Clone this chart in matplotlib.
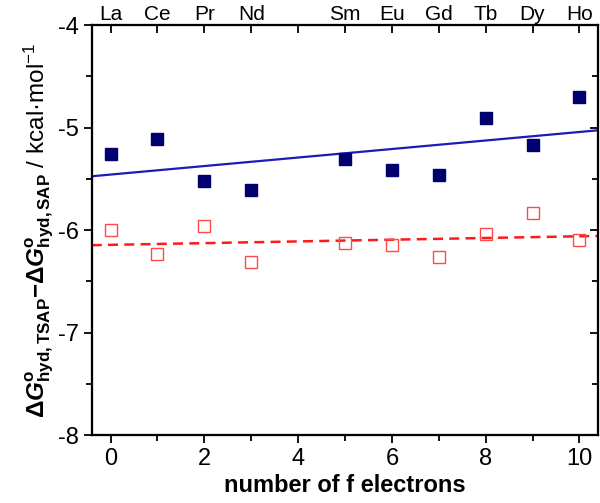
import numpy as np
import matplotlib
matplotlib.use("Agg")
import matplotlib.pyplot as plt
from matplotlib.ticker import MultipleLocator

plt.rcParams['font.family'] = ['Liberation Sans', 'DejaVu Sans']
plt.rcParams['mathtext.fontset'] = 'custom'
plt.rcParams['mathtext.rm'] = 'Liberation Sans'
plt.rcParams['mathtext.it'] = 'Liberation Sans:italic'
plt.rcParams['mathtext.bf'] = 'Liberation Sans:bold'
plt.rcParams['mathtext.bfit'] = 'Liberation Sans:bold:italic'
plt.rcParams['axes.unicode_minus'] = False

# data
f_electrons = [0, 1, 2, 3, 5, 6, 7, 8, 9, 10]
elements = ['La', 'Ce', 'Pr', 'Nd', 'Sm', 'Eu', 'Gd', 'Tb', 'Dy', 'Ho']
filled_vals = [-5.26, -5.11, -5.52, -5.61, -5.31, -5.41, -5.46, -4.91, -5.17, -4.70]
open_vals = [-6.00, -6.23, -5.96, -6.31, -6.13, -6.15, -6.26, -6.04, -5.83, -6.10]

fig = plt.figure(figsize=(6.0, 5.03), dpi=100)
ax = fig.add_axes([0.153, 0.135, 0.844, 0.815])

xlim = (-0.4, 10.4)
xfit = np.array(xlim)
x = np.array(f_electrons)

p1 = np.polyfit(x, filled_vals, 1)
p2 = np.polyfit(x, open_vals, 1)
ax.plot(xfit, np.polyval(p1, xfit), color='#1c1cb4', lw=1.6, zorder=2)
ax.plot(xfit, np.polyval(p2, xfit), color='#ff1a1a', lw=1.8, ls=(0, (4, 2.5)), zorder=2)

ax.plot(x, filled_vals, 's', color='#00006e', ms=8.5, mec='#00006e', zorder=3, ls='none')
ax.plot(x, open_vals, 's', mfc='none', mec='#ff4a4a', mew=1.0, ms=8.5, zorder=3, ls='none')

ax.set_xlim(*xlim)
ax.set_ylim(-8, -4)

ax.xaxis.set_major_locator(MultipleLocator(2))
ax.xaxis.set_minor_locator(MultipleLocator(1))
ax.yaxis.set_major_locator(MultipleLocator(1))
ax.yaxis.set_minor_locator(MultipleLocator(0.5))

ax.tick_params(axis='both', which='major', direction='out', length=6, width=1.3,
               labelsize=17, pad=3)
ax.tick_params(axis='both', which='minor', direction='out', length=4, width=1.3)
ax.tick_params(axis='y', which='both', right=False)
ax.tick_params(axis='x', which='both', top=False)

for sp in ax.spines.values():
    sp.set_linewidth(1.5)

# right ticks inward
ax2 = ax.twinx()
ax2.set_ylim(ax.get_ylim())
ax2.yaxis.set_major_locator(MultipleLocator(1))
ax2.yaxis.set_minor_locator(MultipleLocator(0.5))
ax2.tick_params(axis='y', which='both', direction='in', length=6, width=1.3, labelright=False)
ax2.tick_params(axis='y', which='minor', length=4)

# top element labels
axt = ax.twiny()
axt.set_xlim(ax.get_xlim())
axt.set_xticks(list(range(0, 11)))
axt.set_xticklabels([elements[f_electrons.index(i)] if i in f_electrons else '' for i in range(0, 11)])
axt.tick_params(axis='x', direction='in', length=6, width=1.3, labelsize=15, pad=1)
for a in (ax2, axt):
    for sp in a.spines.values():
        sp.set_linewidth(1.5)

ax.set_xlabel('number of f electrons', fontsize=17, fontweight='bold', labelpad=3)
ax.set_ylabel(r'$\mathbf{\Delta}\mathbfit{G}^{\mathbf{o}}_{\mathbf{hyd,TSAP}}\mathbf{-\Delta}\mathbfit{G}^{\mathbf{o}}_{\mathbf{hyd,SAP}}$ / kcal·mol$^{-1}$',
              fontsize=17.5, labelpad=2)

fig.savefig('out.png', dpi=100)
